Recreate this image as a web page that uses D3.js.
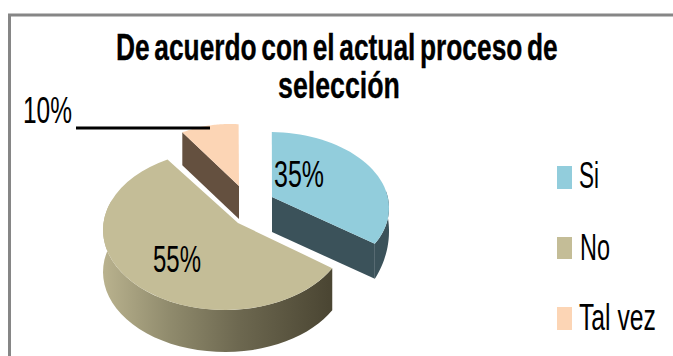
<!DOCTYPE html>
<html>
<head>
<meta charset="utf-8">
<script src="https://cdn.jsdelivr.net/npm/d3@7/dist/d3.min.js"></script>
<style>
html,body{margin:0;padding:0;background:#fff}
svg{display:block}
text{font-family:"Liberation Sans Narrow","Liberation Sans",sans-serif;fill:#000}
</style>
</head>
<body>
<svg id="chart" width="673" height="356"></svg>
<script>
// Survey answers, in percent
const categories = ["Si", "No", "Tal vez"];
const values = [35, 55, 10];
const titleLines = ["De acuerdo con el actual proceso de", "selección"];

const topColors = d3.scaleOrdinal(categories, ["#92cddc", "#c4bd97", "#fcd5b5"]);
const wallColors = d3.scaleOrdinal(categories, ["#3b525a", "url(#noWall)", "#64503f"]);

// Each exploded slice has its own ellipse and apex, since the pie is seen in perspective.
// wallStart is the share of the depth shown where the rim wall begins to come into view.
const sliceFrames = {
  "Si":      {cx: 269, cy: 208, rx: 120, ry: 76, apexX: 272, apexY: 197, depth: 35, wallStart: 0.5},
  "No":      {cx: 225, cy: 230, rx: 122, ry: 80, apexX: 238, apexY: 223, depth: 42, wallStart: 1},
  "Tal vez": {cx: 230, cy: 193, rx: 100, ry: 69, apexX: 239, apexY: 186, depth: 33, wallStart: 1}
};
const labelFrames = {
  "Si":      {x: 274, y: 187, w: 50},
  "No":      {x: 153, y: 272, w: 48},
  "Tal vez": {x: 23,  y: 123, w: 49}
};
const legendRows = {
  "Si":      {top: 166, h: 23, textX: 579, base: 188, w: 20},
  "No":      {top: 237, h: 22, textX: 580, base: 260, w: 30},
  "Tal vez": {top: 307, h: 23, textX: 579, base: 330, w: 77}
};

const svg = d3.select("#chart");

// Squeezes a text horizontally to a given width and stretches it a little upward
function fitWidth(sel, xOf, yOf, widthOf) {
  sel.each(function (d, i) {
    const natural = this.getComputedTextLength();
    const sx = widthOf(d, i) / natural;
    d3.select(this).attr("transform", `translate(${xOf(d, i)},${yOf(d, i)}) scale(${sx},1.06)`);
  });
}

// Wall shading of the large slice
const grad = svg.append("defs").append("linearGradient")
  .attr("id", "noWall").attr("gradientUnits", "userSpaceOnUse")
  .attr("x1", 103).attr("x2", 329).attr("y1", 0).attr("y2", 0);
[[0, "#b9b28e"], [0.3, "#8f8a6c"], [0.6, "#6d6850"], [1, "#4b4633"]].forEach(([o, c]) =>
  grad.append("stop").attr("offset", o).attr("stop-color", c));

// Frame: only the top and left edges are visible
svg.append("path").attr("d", "M673,15H9.5V356")
  .attr("fill", "none").attr("stroke", "#868686").attr("stroke-width", 3);

// Title
const titleSpec = [{x: 116, y: 60, w: 442}, {x: 278, y: 98, w: 122}];
svg.selectAll("text.title").data(titleLines).join("text")
  .attr("class", "title")
  .attr("font-size", 34).attr("font-weight", "bold")
  .attr("word-spacing", -3.5)
  .attr("stroke", "#000").attr("stroke-width", 0.3)
  .text(d => d)
  .call(fitWidth, (d, i) => titleSpec[i].x, (d, i) => titleSpec[i].y, (d, i) => titleSpec[i].w);

const rows = categories.map((c, i) => ({name: c, value: values[i]}));
const pie = d3.pie().value(d => d.value).sort(null);
const slices = pie(rows);

// Projects a pie angle onto a slice's ellipse. A projective map of the disc
// moves its centre to the apex, so the rim keeps its true ellipse outline.
function project(f, theta, r = 1, dy = 0) {
  const ax = (f.apexX - f.cx) / f.rx, ay = (f.apexY - f.cy) / f.ry;
  const px = r * Math.sin(theta), py = -r * Math.cos(theta);
  const a2 = ax * ax + ay * ay, dot = ax * px + ay * py;
  const s = Math.sqrt(1 - a2), par = dot / a2;
  const perpX = px - par * ax, perpY = py - par * ay;
  const w = 1 + dot;
  const qx = (ax + par * ax + s * perpX) / w, qy = (ay + par * ay + s * perpY) / w;
  return [f.cx + f.rx * qx, f.cy + f.ry * qy + dy];
}

const line = d3.line();
const arcAngles = (a0, a1) => d3.range(0, 41).map(k => a0 + (a1 - a0) * k / 40);
const deg = Math.PI / 180;

const rimPoints = (f, a0, a1) => arcAngles(a0, a1).map(t => project(f, t));

// Lower edge of a rim wall, with the depth growing from wallStart to full
function wallFloor(f, a0, a1) {
  return arcAngles(a0, a1).map((t, k) =>
    project(f, t, 1, f.depth * (f.wallStart + (1 - f.wallStart) * k / 40)));
}

// Back slices first, the large front slice last
const order = ["Tal vez", "Si", "No"];
order.forEach(name => {
  const s = slices[categories.indexOf(name)];
  const f = sliceFrames[name];
  const g = svg.append("g");
  const apex = [f.apexX, f.apexY];
  const apexLow = [f.apexX, f.apexY + f.depth];

  // Rim wall, only on the part of the rim that faces the viewer
  const w0 = Math.max(s.startAngle, 85 * deg), w1 = Math.min(s.endAngle, 285 * deg);
  if (w1 > w0) {
    g.append("path")
      .attr("d", line(rimPoints(f, w0, w1).concat(wallFloor(f, w0, w1).reverse())) + "Z")
      .attr("fill", wallColors(name));
  }
  // Cut walls that face the viewer
  if (name === "Si" || name === "Tal vez") {
    const e = project(f, name === "Si" ? s.endAngle : s.startAngle);
    g.append("path").attr("d", line([apex, e, [e[0], e[1] + f.depth], apexLow]) + "Z")
      .attr("fill", wallColors(name));
  }
  // Top face
  g.append("path")
    .attr("d", line([apex].concat(rimPoints(f, s.startAngle, s.endAngle))) + "Z")
    .attr("fill", topColors(name));
});

// Leader line of the small slice
svg.append("line").attr("x1", 76).attr("x2", 210).attr("y1", 128).attr("y2", 128)
  .attr("stroke", "#000").attr("stroke-width", 3);

// Value labels
svg.selectAll("text.value").data(rows).join("text")
  .attr("class", "value")
  .attr("font-size", 34)
  .text(d => d.value + "%")
  .call(fitWidth, d => labelFrames[d.name].x, d => labelFrames[d.name].y, d => labelFrames[d.name].w);

// Legend
const legend = svg.selectAll("g.legend").data(categories).join("g").attr("class", "legend");
legend.append("rect")
  .attr("x", 557).attr("width", 15)
  .attr("y", d => legendRows[d].top).attr("height", d => legendRows[d].h)
  .attr("fill", d => topColors(d));
legend.append("text")
  .attr("font-size", 34)
  .text(d => d)
  .call(fitWidth, d => legendRows[d].textX, d => legendRows[d].base, d => legendRows[d].w);
</script>
</body>
</html>
